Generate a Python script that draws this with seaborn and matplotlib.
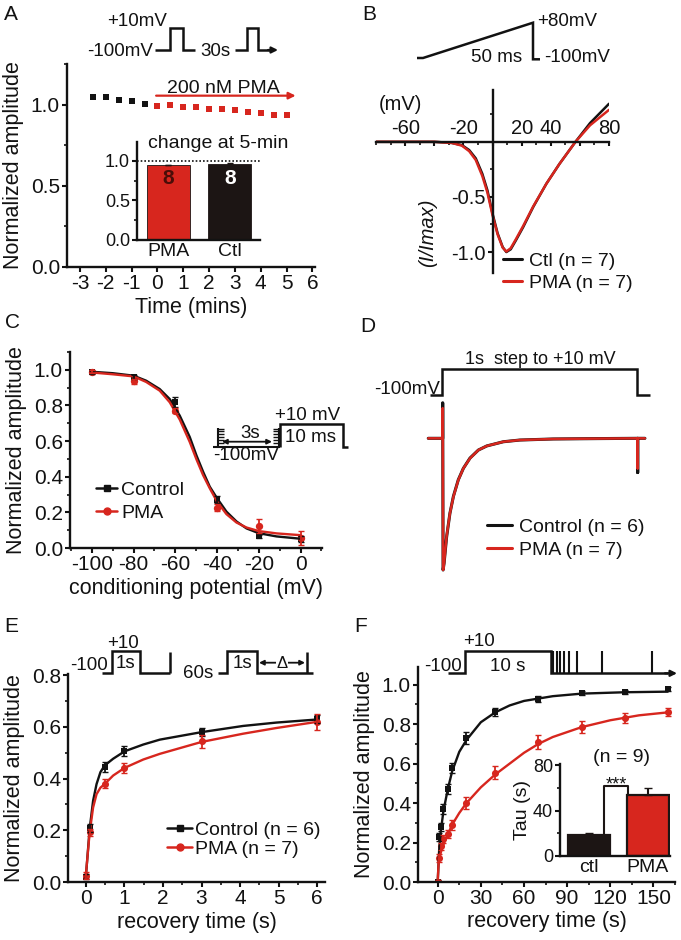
"""
Six-panel figure: PMA effect on current amplitude, I-V, inactivation and recovery.
Writes out.png (681 x 940 px).
"""

import matplotlib
matplotlib.use("Agg")
import matplotlib.pyplot as plt
from matplotlib.lines import Line2D
from matplotlib.ticker import MultipleLocator, FormatStrFormatter
import seaborn as sns

W, H = 681, 940
RED = "#d7261e"
BLACK = "#121212"
BAR_BLACK = "#1c1514"

# ---------------- values ----------------
# A: amplitude over time (PMA added at t = 0)
A_CTL_T = [-2.5, -2.0, -1.5, -1.0, -0.5]
A_CTL_Y = [1.045, 1.045, 1.03, 1.025, 1.005]
A_PMA_T = [0, 0.5, 1, 1.5, 2, 2.5, 3, 3.5, 4, 4.5, 5]
A_PMA_Y = [0.994, 0.998, 0.988, 0.983, 0.974, 0.971, 0.967, 0.957, 0.947, 0.934, 0.934]
A_BAR_LABELS = ["PMA", "Ctl"]
A_BAR_VALUES = [0.946, 0.962]
A_BAR_ERR = [0.008, 0.008]
A_BAR_N = ["8", "8"]

# B: normalized I-V relation from the ramp
B_V = [-80, -60, -40, -28, -21, -16, -11.5, -7, -3.5, 0, 3.5, 7, 9.5, 12.5, 16, 21, 28, 37, 46, 57, 67, 80]
B_CTL = [0, 0, 0, -0.01, -0.03, -0.075, -0.15, -0.29, -0.44, -0.65, -0.83, -0.955, -1.0, -0.975,
         -0.895, -0.775, -0.59, -0.38, -0.2, 0, 0.17, 0.345]
B_PMA = [0, 0, 0, -0.01, -0.035, -0.085, -0.165, -0.31, -0.46, -0.665, -0.84, -0.96, -0.995, -0.965,
         -0.885, -0.765, -0.585, -0.38, -0.2, 0, 0.15, 0.29]

# C: steady-state inactivation
C_V = [-100, -80, -60, -40, -20, 0]
C_CTL = [0.985, 0.96, 0.82, 0.27, 0.065, 0.05]
C_CTL_ERR = [0.01, 0.01, 0.03, 0.02, 0.01, 0.015]
C_PMA = [0.99, 0.935, 0.77, 0.225, 0.125, 0.055]
C_PMA_ERR = [0.01, 0.015, 0.015, 0.02, 0.04, 0.04]
C_FIT_V = [-100, -90, -80, -74, -67.5, -62.7, -57.9, -53.1, -49.9, -46.7, -43.5, -40, -35.5, -30.7,
           -25.9, -20, -11.5, 0]
C_CTL_FIT = [0.989, 0.981, 0.967, 0.939, 0.892, 0.836, 0.743, 0.623, 0.52, 0.428, 0.344, 0.279,
             0.204, 0.149, 0.11, 0.083, 0.065, 0.052]
C_PMA_FIT = [0.985, 0.975, 0.963, 0.932, 0.883, 0.818, 0.721, 0.595, 0.498, 0.409, 0.335, 0.26,
             0.19, 0.143, 0.115, 0.095, 0.082, 0.072]

# D: averaged current traces during the 1 s step (ms, normalized)
D_T = [-74, 0, 0, 2, 7, 20, 37, 55, 80, 106, 140, 183, 226, 311, 396, 567, 800, 1000, 1000, 1000, 1037]
D_CTL = [0, 0, 0.27, -1.0, -0.95, -0.75, -0.57, -0.44, -0.315, -0.228, -0.15, -0.089, -0.058,
         -0.026, -0.013, -0.005, -0.002, 0, -0.26, 0, 0]
D_PMA = [0, 0, 0.23, -1.0, -0.95, -0.745, -0.57, -0.443, -0.317, -0.228, -0.152, -0.089, -0.058,
         -0.026, -0.013, -0.005, -0.002, 0, -0.228, 0, 0]

# E: recovery after a 1 s step
E_T = [0, 0.1, 0.5, 1, 3, 6]
E_CTL = [0.02, 0.21, 0.445, 0.506, 0.58, 0.63]
E_CTL_ERR = [0.01, 0.015, 0.02, 0.02, 0.015, 0.015]
E_PMA = [0.025, 0.192, 0.38, 0.441, 0.545, 0.62]
E_PMA_ERR = [0.012, 0.015, 0.018, 0.02, 0.025, 0.03]
E_FIT_T = [0, 0.1, 0.19, 0.28, 0.38, 0.49, 0.71, 1.01, 1.49, 1.92, 3.0, 4.08, 4.94, 6.0]
E_CTL_FIT = [0.015, 0.204, 0.314, 0.379, 0.425, 0.451, 0.477, 0.506, 0.532, 0.551, 0.58, 0.604, 0.617, 0.629]
E_PMA_FIT = [0.022, 0.19, 0.288, 0.34, 0.365, 0.379, 0.412, 0.442, 0.474, 0.496, 0.542, 0.574, 0.596, 0.62]

# F: recovery after a 10 s step
F_T = [0, 1, 2, 4, 7, 10, 20, 40, 70, 100, 130, 160]
F_CTL = [0, 0.23, 0.28, 0.37, 0.47, 0.58, 0.73, 0.86, 0.93, 0.96, 0.962, 0.98]
F_CTL_ERR = [0.01, 0.02, 0.02, 0.025, 0.025, 0.025, 0.03, 0.02, 0.015, 0.01, 0.01, 0.01]
F_PMA = [0, 0.12, 0.18, 0.22, 0.245, 0.29, 0.40, 0.555, 0.71, 0.785, 0.83, 0.86]
F_PMA_ERR = [0.01, 0.02, 0.02, 0.02, 0.02, 0.025, 0.03, 0.035, 0.035, 0.03, 0.025, 0.02]
F_CTL_FIT_T = [0, 1, 2, 4, 7, 10, 15, 20, 30, 40, 50, 60, 80, 100, 130, 160]
F_CTL_FIT = [0, 0.16, 0.25, 0.36, 0.47, 0.56, 0.66, 0.72, 0.81, 0.86, 0.895, 0.918, 0.942,
             0.955, 0.962, 0.965]
F_PMA_FIT_T = [0, 0.5, 1, 3, 5, 7, 10, 15, 20, 30, 40, 50, 60, 70, 80, 100, 120, 140, 160]
F_PMA_FIT = [0, 0.08, 0.12, 0.17, 0.21, 0.24, 0.29, 0.35, 0.40, 0.48, 0.545, 0.60, 0.655, 0.70,
             0.735, 0.785, 0.82, 0.845, 0.86]
F_BAR_LABELS = ["ctl", "PMA"]
F_BAR_VALUES = [18.8, 53.5]
F_BAR_ERR = [1.6, 6.0]


def pbox(left, top, right, bottom):
    """Axes rectangle from pixel edges (origin top-left)."""
    return [left / W, 1 - bottom / H, (right - left) / W, (bottom - top) / H]


def fpt(x, y):
    return (x / W, 1 - y / H)


def configure():
    sns.set_theme(style="ticks")
    plt.rcParams.update({
        "font.family": ["Liberation Sans", "DejaVu Sans"],
        "axes.unicode_minus": False,
        "axes.linewidth": 1.7,
        "axes.edgecolor": BLACK,
        "axes.labelcolor": BLACK,
        "text.color": BLACK,
        "xtick.color": BLACK,
        "ytick.color": BLACK,
        "xtick.major.width": 1.5,
        "ytick.major.width": 1.5,
        "xtick.minor.width": 1.2,
        "ytick.minor.width": 1.2,
        "xtick.major.size": 3.6,
        "ytick.major.size": 3.6,
        "xtick.minor.size": 2.2,
        "ytick.minor.size": 2.2,
        "xtick.major.pad": 1.5,
        "ytick.major.pad": 1.5,
        "xtick.labelsize": 15,
        "ytick.labelsize": 15,
        "axes.labelsize": 15.5,
        "xtick.direction": "out",
        "ytick.direction": "out",
    })


def new_axes(fig, rect):
    ax = fig.add_axes(rect)
    ax.set_facecolor("none")
    sns.despine(ax=ax)
    return ax


def legend_at(ax, fig, handles, labels, x, y, **kw):
    opts = dict(loc="upper left", bbox_to_anchor=fpt(x, y), bbox_transform=fig.transFigure,
                frameon=False, fontsize=14, borderpad=0, borderaxespad=0)
    opts.update(kw)
    ax.legend(handles, labels, **opts)


def panel_a(fig):
    ax = new_axes(fig, pbox(67, 64, 315, 267))
    sns.scatterplot(x=A_CTL_T, y=A_CTL_Y, marker="s", s=24, color=BLACK, linewidth=0, ax=ax)
    sns.scatterplot(x=A_PMA_T, y=A_PMA_Y, marker="s", s=24, color=RED, linewidth=0, ax=ax)
    ax.annotate("", xy=(5.35, 1.055), xytext=(-0.05, 1.055),
                arrowprops=dict(arrowstyle="-|>", color=RED, lw=1.6, mutation_scale=10,
                                shrinkA=0, shrinkB=0))
    ax.text(2.55, 1.1, "200 nM PMA", ha="center", va="center", fontsize=14)
    ax.set_xlim(-3.5, 6.1)
    ax.set_ylim(0, 1.25)
    ax.xaxis.set_major_locator(MultipleLocator(1))
    ax.yaxis.set_major_locator(MultipleLocator(0.5))
    ax.yaxis.set_minor_locator(MultipleLocator(0.25))
    ax.yaxis.set_major_formatter(FormatStrFormatter("%.1f"))
    ax.set_xlabel("Time (mins)", labelpad=3)
    ax.set_ylabel("Normalized amplitude", labelpad=5)

    ins = new_axes(fig, pbox(137, 142, 260, 240))
    sns.barplot(x=A_BAR_LABELS, y=A_BAR_VALUES, hue=A_BAR_LABELS, palette=[RED, BAR_BLACK],
                saturation=1, width=0.7, legend=False, edgecolor=BAR_BLACK, linewidth=0.6, ax=ins)
    ins.errorbar([0, 1], A_BAR_VALUES, yerr=[[0, 0], A_BAR_ERR], fmt="none", ecolor=BAR_BLACK,
                 elinewidth=1.2, capsize=2)
    ins.axhline(1.0, color=BLACK, ls=(0, (1, 1.2)), lw=1.2)
    for i, n in enumerate(A_BAR_N):
        ins.text(i, 0.78, n, ha="center", va="center", fontsize=15, fontweight="bold",
                 color="#4a0d08" if i == 0 else "white")
    ins.set_xlim(-0.51, 1.49)
    ins.set_ylim(0, 1.24)
    ins.yaxis.set_major_locator(MultipleLocator(0.5))
    ins.yaxis.set_minor_locator(MultipleLocator(0.25))
    ins.yaxis.set_major_formatter(FormatStrFormatter("%.1f"))
    ins.tick_params(axis="y", labelsize=13)
    ins.tick_params(axis="x", length=0, labelsize=14, pad=2)
    ins.set_xlabel("")
    ins.set_ylabel("")


def panel_b(fig):
    ax = fig.add_axes(pbox(376, 90, 609, 273))
    ax.set_facecolor("none")
    sns.lineplot(x=B_V, y=B_CTL, sort=False, estimator=None, color=BLACK, lw=1.8, ax=ax)
    sns.lineplot(x=B_V, y=B_PMA, sort=False, estimator=None, color=RED, lw=1.8, ax=ax)
    ax.set_xlim(-80, 80)
    ax.set_ylim(-1.19, 0.47)
    for side in ("top", "right"):
        ax.spines[side].set_visible(False)
    ax.spines["left"].set_position(("data", 0))
    ax.spines["bottom"].set_position(("data", 0))
    ax.set_xticks([-60, -40, -20, 0, 20, 40, 60, 80])
    ax.set_xticklabels(["-60", "", "-20", "", "20", "40", "", "80"])
    ax.xaxis.set_minor_locator(MultipleLocator(10))
    ax.tick_params(axis="x", which="major", length=3, pad=-5.5, labelsize=14.5)
    ax.tick_params(axis="x", which="minor", length=2)
    for lab in ax.get_xticklabels():
        lab.set_verticalalignment("bottom")
    ax.set_yticks([-1.0, -0.5])
    ax.set_yticklabels(["-1.0", "-0.5"])
    ax.yaxis.set_minor_locator(MultipleLocator(0.25))
    ax.tick_params(axis="y", labelsize=14.5)
    ax.set_xlabel("")
    ax.set_ylabel("")
    h = [Line2D([], [], color=BLACK, lw=2.2), Line2D([], [], color=RED, lw=2.2)]
    legend_at(ax, fig, h, ["Ctl (n = 7)", "PMA (n = 7)"], 503, 252,
              handlelength=1.0, handletextpad=0.35, labelspacing=0.25)


def panel_c(fig):
    ax = new_axes(fig, pbox(70, 352, 322, 548))
    sns.lineplot(x=C_FIT_V, y=C_CTL_FIT, color=BLACK, lw=1.7, ax=ax)
    sns.lineplot(x=C_FIT_V, y=C_PMA_FIT, color=RED, lw=1.7, ax=ax)
    ax.errorbar(C_V, C_CTL, yerr=C_CTL_ERR, fmt="none", ecolor=BLACK, elinewidth=1.3, capsize=2)
    ax.errorbar(C_V, C_PMA, yerr=C_PMA_ERR, fmt="none", ecolor=RED, elinewidth=1.3, capsize=2)
    sns.scatterplot(x=C_V, y=C_CTL, marker="s", s=24, color=BLACK, linewidth=0, ax=ax)
    sns.scatterplot(x=C_V, y=C_PMA, marker="o", s=28, color=RED, linewidth=0, ax=ax)
    ax.set_xlim(-110.5, 10.3)
    ax.set_ylim(0, 1.1)
    ax.xaxis.set_major_locator(MultipleLocator(20))
    ax.xaxis.set_minor_locator(MultipleLocator(10))
    ax.yaxis.set_major_locator(MultipleLocator(0.2))
    ax.yaxis.set_minor_locator(MultipleLocator(0.1))
    ax.yaxis.set_major_formatter(FormatStrFormatter("%.1f"))
    ax.set_xlabel("conditioning potential (mV)", labelpad=3)
    ax.set_ylabel("Normalized amplitude", labelpad=5)
    h = [Line2D([], [], color=BLACK, lw=1.8, marker="s", ms=5),
         Line2D([], [], color=RED, lw=1.8, marker="o", ms=5)]
    legend_at(ax, fig, h, ["Control", "PMA"], 96, 481,
              handlelength=1.1, handletextpad=0.2, labelspacing=0.3)


def panel_d(fig):
    ax = fig.add_axes(pbox(420, 395, 660, 580))
    ax.set_facecolor("none")
    sns.lineplot(x=D_T, y=D_CTL, sort=False, estimator=None, color=BLACK, lw=2.2, ax=ax)
    sns.lineplot(x=D_T, y=D_PMA, sort=False, estimator=None, color=RED, lw=1.8, ax=ax)
    ax.set_xlim(-116.4, 1114.4)
    ax.set_ylim(-1.076, 0.329)
    ax.axis("off")
    h = [Line2D([], [], color=BLACK, lw=2.2), Line2D([], [], color=RED, lw=2.2)]
    legend_at(ax, fig, h, ["Control (n = 6)", "PMA (n = 7)"], 487, 518,
              handlelength=1.3, handletextpad=0.35, labelspacing=0.3)


def panel_e(fig):
    ax = new_axes(fig, pbox(68, 674, 325, 882))
    sns.lineplot(x=E_FIT_T, y=E_CTL_FIT, color=BLACK, lw=1.7, ax=ax)
    sns.lineplot(x=E_FIT_T, y=E_PMA_FIT, color=RED, lw=1.7, ax=ax)
    ax.errorbar(E_T, E_CTL, yerr=E_CTL_ERR, fmt="none", ecolor=BLACK, elinewidth=1.3, capsize=2)
    ax.errorbar(E_T, E_PMA, yerr=E_PMA_ERR, fmt="none", ecolor=RED, elinewidth=1.3, capsize=2)
    sns.scatterplot(x=E_T, y=E_CTL, marker="s", s=22, color=BLACK, linewidth=0, ax=ax)
    sns.scatterplot(x=E_T, y=E_PMA, marker="o", s=26, color=RED, linewidth=0, ax=ax)
    ax.set_xlim(-0.46, 6.2)
    ax.set_ylim(0, 0.805)
    ax.xaxis.set_major_locator(MultipleLocator(1))
    ax.xaxis.set_minor_locator(MultipleLocator(0.5))
    ax.yaxis.set_major_locator(MultipleLocator(0.2))
    ax.yaxis.set_minor_locator(MultipleLocator(0.1))
    ax.yaxis.set_major_formatter(FormatStrFormatter("%.1f"))
    ax.set_xlabel("recovery time (s)", labelpad=3)
    ax.set_ylabel("Normalized amplitude", labelpad=5)
    h = [Line2D([], [], color=BLACK, lw=1.8, marker="s", ms=5),
         Line2D([], [], color=RED, lw=1.8, marker="o", ms=5)]
    legend_at(ax, fig, h, ["Control (n = 6)", "PMA (n = 7)"], 167, 821,
              handlelength=1.3, handletextpad=0.15, labelspacing=0.08)


def panel_f(fig):
    ax = new_axes(fig, pbox(418, 667, 675, 882))
    sns.lineplot(x=F_CTL_FIT_T, y=F_CTL_FIT, color=BLACK, lw=1.7, ax=ax)
    sns.lineplot(x=F_PMA_FIT_T, y=F_PMA_FIT, color=RED, lw=1.7, ax=ax)
    ax.errorbar(F_T, F_CTL, yerr=F_CTL_ERR, fmt="none", ecolor=BLACK, elinewidth=1.3, capsize=2)
    ax.errorbar(F_T, F_PMA, yerr=F_PMA_ERR, fmt="none", ecolor=RED, elinewidth=1.3, capsize=2)
    sns.scatterplot(x=F_T, y=F_CTL, marker="s", s=22, color=BLACK, linewidth=0, ax=ax)
    sns.scatterplot(x=F_T, y=F_PMA, marker="o", s=26, color=RED, linewidth=0, ax=ax)
    ax.set_xlim(-13.7, 165)
    ax.set_ylim(0, 1.09)
    ax.xaxis.set_major_locator(MultipleLocator(30))
    ax.xaxis.set_minor_locator(MultipleLocator(15))
    ax.yaxis.set_major_locator(MultipleLocator(0.2))
    ax.yaxis.set_minor_locator(MultipleLocator(0.1))
    ax.yaxis.set_major_formatter(FormatStrFormatter("%.1f"))
    ax.set_xlabel("recovery time (s)", labelpad=2)
    ax.set_ylabel("Normalized amplitude", labelpad=5)

    ins = new_axes(fig, pbox(560, 764, 670, 856))
    sns.barplot(x=F_BAR_LABELS, y=F_BAR_VALUES, hue=F_BAR_LABELS, palette=[BAR_BLACK, RED],
                saturation=1, width=0.71, legend=False, edgecolor=BAR_BLACK, linewidth=1.6, ax=ins)
    ins.errorbar([0, 1], F_BAR_VALUES, yerr=[[0, 0], F_BAR_ERR], fmt="none", ecolor=BAR_BLACK,
                 elinewidth=1.5, capsize=3)
    ins.plot([0.26, 0.26, 0.67, 0.67], [F_BAR_VALUES[0], 62, 62, F_BAR_VALUES[1]],
             color=BAR_BLACK, lw=1.5, clip_on=False)
    ins.text(0.465, 58.5, "***", ha="center", va="baseline", fontsize=13)
    ins.set_xlim(-0.49, 1.38)
    ins.set_ylim(0, 81)
    ins.set_yticks([0, 40, 80])
    ins.yaxis.set_minor_locator(MultipleLocator(20))
    ins.tick_params(axis="y", labelsize=13)
    ins.tick_params(axis="x", length=0, labelsize=14, pad=2)
    ins.set_xlabel("")
    ins.set_ylabel("Tau (s)", fontsize=14, labelpad=1)


def draw_protocols(fig):
    ov = fig.add_axes([0, 0, 1, 1], zorder=20)
    ov.set_xlim(0, W)
    ov.set_ylim(H, 0)
    ov.axis("off")
    ov.patch.set_alpha(0)

    def trace(xs, ys, color=BLACK, lw=1.8):
        ov.plot(xs, ys, color=color, lw=lw, solid_joinstyle="miter", solid_capstyle="butt")

    ann = 13.5

    # A: paired pulses every 30 s
    trace([155, 170, 170, 182.7, 182.7, 195], [50, 50, 28.3, 28.3, 50, 50])
    trace([235, 246.7, 246.7, 258.3, 258.3, 272], [50, 50, 28.3, 28.3, 50, 50])
    ov.annotate("", xy=(278, 50), xytext=(268, 50),
                arrowprops=dict(arrowstyle="-|>", color=BLACK, lw=1.6, mutation_scale=9,
                                shrinkA=0, shrinkB=0))
    ov.text(137, 22, "+10mV", ha="center", va="center", fontsize=ann)
    ov.text(153, 51, "-100mV", ha="right", va="center", fontsize=ann)
    ov.text(215, 52, "30s", ha="center", va="center", fontsize=ann)
    ov.text(218, 143, "change at 5-min", ha="center", va="center", fontsize=14)

    # B: ramp protocol
    trace([417, 423, 533, 533, 540], [58, 58, 22.7, 59.3, 59.3])
    ov.text(537, 22, "+80mV", ha="left", va="center", fontsize=ann)
    ov.text(544, 58, "-100mV", ha="left", va="center", fontsize=ann)
    ov.text(497, 57.5, "50 ms", ha="center", va="center", fontsize=ann)
    ov.text(400, 105, "(mV)", ha="center", va="center", fontsize=14.5)
    ov.text(428, 233, "(I/Imax)", ha="center", va="center", rotation=90, fontsize=14.5,
            style="italic")

    # C: conditioning steps then test pulse
    trace([213, 280], [446.7, 446.7], lw=1.5)
    trace([218, 218], [428, 446.7], lw=1.5)
    trace([279.3, 279.3], [428, 446.7], lw=1.5)
    for yy in [428.5, 431.3, 434.1, 436.9, 439.7, 442.5]:
        trace([218, 224], [yy, yy], lw=1.0)
        trace([273, 279.3], [yy, yy], lw=1.0)
    trace([280, 280, 343, 343, 348], [446.7, 424.3, 424.3, 446.7, 446.7])
    ov.annotate("", xy=(222, 441.7), xytext=(272, 441.7),
                arrowprops=dict(arrowstyle="<|-|>", color=BLACK, lw=1.3, mutation_scale=7,
                                shrinkA=0, shrinkB=0))
    ov.text(250, 433, "3s", ha="center", va="center", fontsize=ann)
    ov.text(213, 456, "-100mV", ha="left", va="center", fontsize=ann)
    ov.text(275, 416, "+10 mV", ha="left", va="center", fontsize=ann)
    ov.text(285, 437.5, "10 ms", ha="left", va="center", fontsize=ann)

    # D: 1 s step
    trace([430, 441.7, 441.7, 636.7, 636.7, 650], [395, 395, 369.3, 369.3, 395, 395])
    ov.text(540, 359, "1s  step to +10 mV", ha="center", va="center", fontsize=13)
    ov.text(440, 390, "-100mV", ha="right", va="center", fontsize=ann)

    # E: double-pulse recovery protocol
    trace([101.7, 111.7, 111.7, 140, 140, 170], [673.3, 673.3, 650.7, 650.7, 673.3, 673.3])
    trace([170, 170], [673.3, 651.7])
    trace([218.3, 226.7, 226.7, 256.7, 256.7, 313.3], [673.3, 673.3, 650.7, 650.7, 673.3, 673.3])
    trace([306.7, 306.7], [673.3, 651.7])
    ov.annotate("", xy=(259, 662.7), xytext=(305, 662.7),
                arrowprops=dict(arrowstyle="<|-|>", color=BLACK, lw=1.3, mutation_scale=7,
                                shrinkA=0, shrinkB=0))
    ov.text(282, 663, "\u0394", ha="center", va="center", fontsize=12,
            bbox=dict(boxstyle="square,pad=0.05", fc="white", ec="none"))
    ov.text(108, 666, "-100", ha="right", va="center", fontsize=ann)
    ov.text(123, 643, "+10", ha="center", va="center", fontsize=ann)
    ov.text(125, 663, "1s", ha="center", va="center", fontsize=ann)
    ov.text(198, 674, "60s", ha="center", va="center", fontsize=ann)
    ov.text(242, 663, "1s", ha="center", va="center", fontsize=ann)

    # F: 10 s step then test pulses
    trace([448.3, 465, 465, 550.7, 550.7, 668], [673.3, 673.3, 650.7, 650.7, 673.3, 673.3])
    ov.annotate("", xy=(677, 673.3), xytext=(665, 673.3),
                arrowprops=dict(arrowstyle="-|>", color=BLACK, lw=1.6, mutation_scale=9,
                                shrinkA=0, shrinkB=0))
    for xx in [553.3, 556.7, 560, 564, 569.3, 577.3, 601.7, 651.7]:
        trace([xx, xx], [673.3, 651], lw=1.5)
    ov.text(461.7, 666.7, "-100", ha="right", va="center", fontsize=ann)
    ov.text(479, 642, "+10", ha="center", va="center", fontsize=ann)
    ov.text(508, 666.7, "10 s", ha="center", va="center", fontsize=ann)
    ov.text(621.7, 758, "(n = 9)", ha="center", va="center", fontsize=14)

    # panel letters
    for letter, x, y in [("A", 4, 15), ("B", 362, 14), ("C", 5, 323), ("D", 360, 327),
                         ("E", 4, 627), ("F", 354, 627)]:
        ov.text(x, y, letter, ha="left", va="center", fontsize=15)


def main():
    configure()
    fig = plt.figure(figsize=(W / 100, H / 100), dpi=100, facecolor="white")
    panel_a(fig)
    panel_b(fig)
    panel_c(fig)
    panel_d(fig)
    panel_e(fig)
    panel_f(fig)
    draw_protocols(fig)
    fig.savefig("out.png", dpi=100, facecolor="white")


if __name__ == "__main__":
    main()
